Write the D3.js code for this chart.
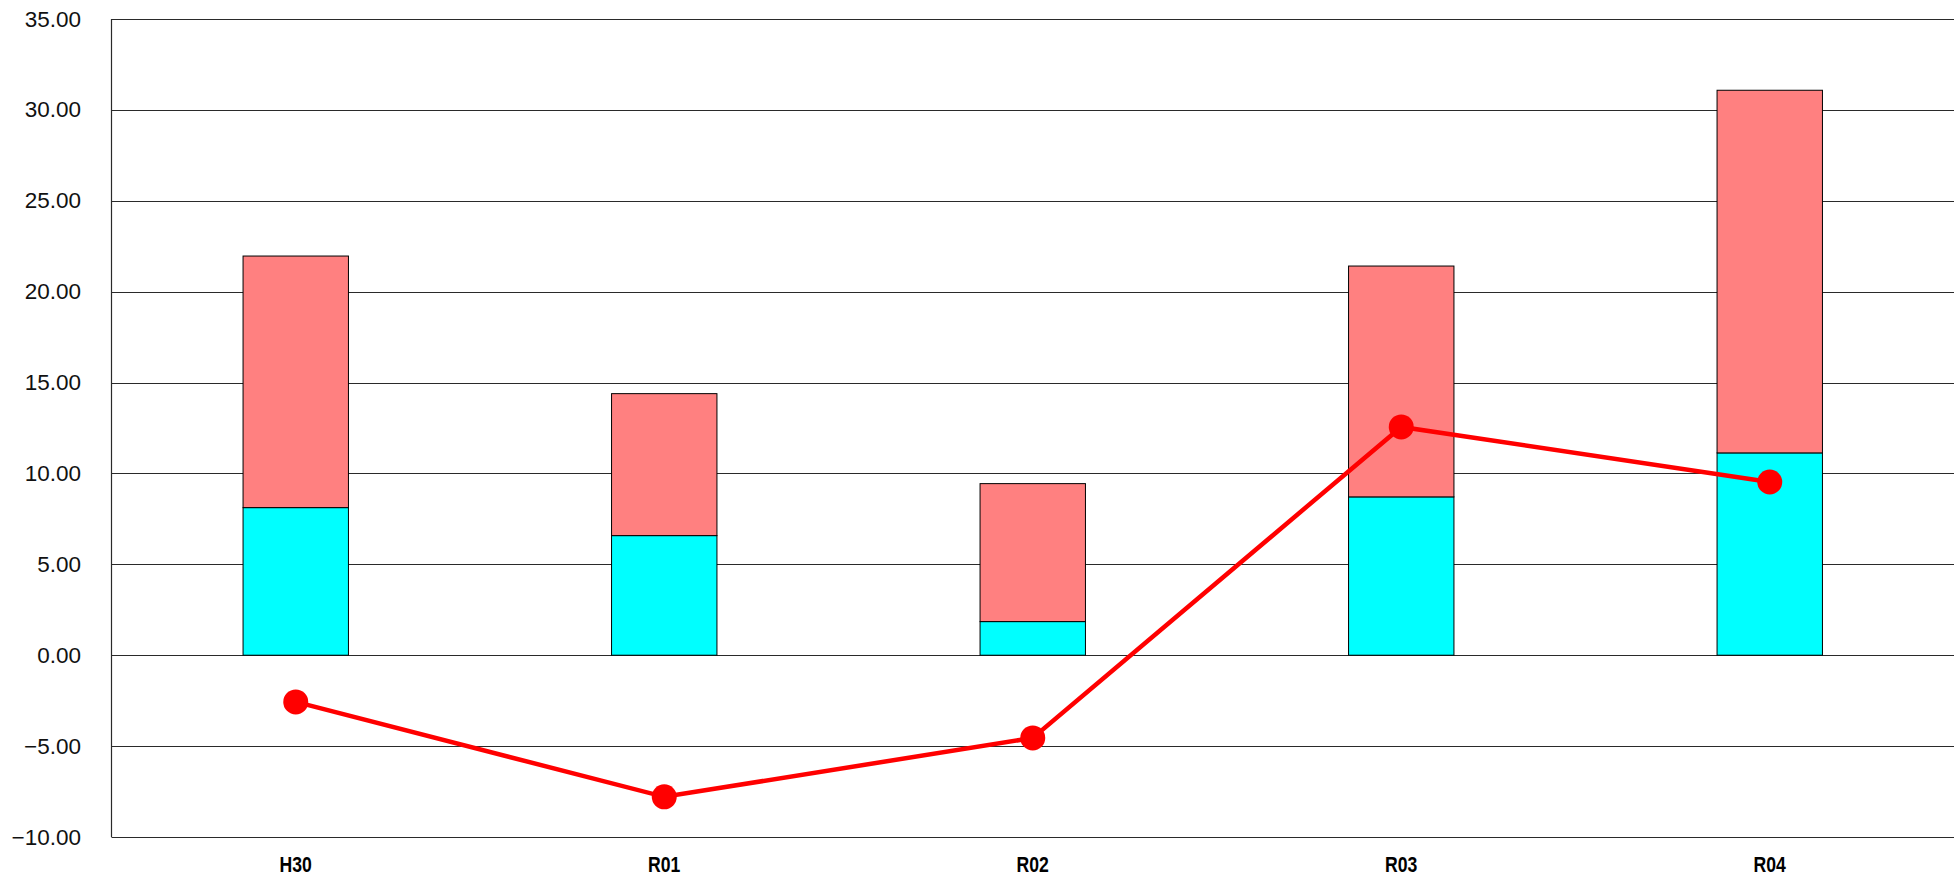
<!DOCTYPE html>
<html>
<head>
<meta charset="utf-8">
<script src="https://cdn.jsdelivr.net/npm/d3@7"></script>
<style>
html,body{margin:0;padding:0;background:#fff;}
svg{display:block;}
</style>
</head>
<body>
<svg id="chart" width="1954" height="877"></svg>
<script>
const categories = ["H30", "R01", "R02", "R03", "R04"];
const cyanValues = [8.12, 6.58, 1.85, 8.71, 11.13];
const pinkValues = [13.84, 7.81, 7.59, 12.70, 19.95];
const lineValues = [-2.57, -7.79, -4.55, 12.56, 9.53];
const yTicks = [-10, -5, 0, 5, 10, 15, 20, 25, 30, 35];

const W = 1954, H = 877;
const margin = {left: 111.5, right: 0, top: 19, bottom: 40};
const svg = d3.select("#chart");

const x = d3.scaleBand().domain(categories)
  .range([margin.left, W - margin.right]).padding(0);
const y = d3.scaleLinear().domain([-10, 35])
  .range([H - margin.bottom, margin.top]);

const barW = x.bandwidth() * 0.286;

// gridlines
svg.append("g").selectAll("line").data(yTicks).join("line")
  .attr("x1", margin.left).attr("x2", W - margin.right)
  .attr("y1", d => Math.round(y(d)) + 0.5).attr("y2", d => Math.round(y(d)) + 0.5)
  .attr("stroke", "#2a2a2a").attr("stroke-width", 1.2);

// y axis line
svg.append("line")
  .attr("x1", margin.left).attr("x2", margin.left)
  .attr("y1", y(35)).attr("y2", y(-10))
  .attr("stroke", "#2a2a2a").attr("stroke-width", 1.2);

// y labels
const fmt = d3.format(".2f");
svg.append("g").selectAll("text").data(yTicks).join("text")
  .attr("x", 81).attr("y", d => y(d))
  .attr("text-anchor", "end").attr("dominant-baseline", "central")
  .attr("font-family", "'Liberation Sans', Arial, sans-serif")
  .attr("font-size", 22.5).attr("fill", "#111")
  .text(d => fmt(d));

// stacked bars
const stack = categories.map((c, i) => ({c, a: cyanValues[i], b: pinkValues[i]}));
const bars = svg.append("g");
bars.selectAll("rect.cyan").data(stack).join("rect").attr("class", "cyan")
  .attr("x", d => x(d.c) + x.bandwidth() / 2 - barW / 2)
  .attr("width", barW)
  .attr("y", d => y(d.a)).attr("height", d => y(0) - y(d.a))
  .attr("fill", "#00FFFF").attr("stroke", "#000").attr("stroke-width", 1);
bars.selectAll("rect.pink").data(stack).join("rect").attr("class", "pink")
  .attr("x", d => x(d.c) + x.bandwidth() / 2 - barW / 2)
  .attr("width", barW)
  .attr("y", d => y(d.a + d.b)).attr("height", d => y(d.a) - y(d.a + d.b))
  .attr("fill", "#FF8080").attr("stroke", "#000").attr("stroke-width", 1);

// line series
const pts = categories.map((c, i) => ({c, v: lineValues[i]}));
const line = d3.line().x(d => x(d.c) + x.bandwidth() / 2).y(d => y(d.v));
svg.append("path").datum(pts).attr("d", line)
  .attr("fill", "none").attr("stroke", "#FF0000").attr("stroke-width", 4.5);
svg.append("g").selectAll("circle").data(pts).join("circle")
  .attr("cx", d => x(d.c) + x.bandwidth() / 2).attr("cy", d => y(d.v))
  .attr("r", 12.5).attr("fill", "#FF0000");

// x labels (condensed bold look)
svg.append("g").selectAll("text").data(categories).join("text")
  .attr("transform", d => `translate(${x(d) + x.bandwidth() / 2},864) scale(0.8,1)`)
  .attr("text-anchor", "middle").attr("dominant-baseline", "central")
  .attr("font-family", "'Liberation Sans', Arial, sans-serif")
  .attr("font-weight", "bold").attr("font-size", 22).attr("fill", "#000")
  .text(d => d);
</script>
</body>
</html>
